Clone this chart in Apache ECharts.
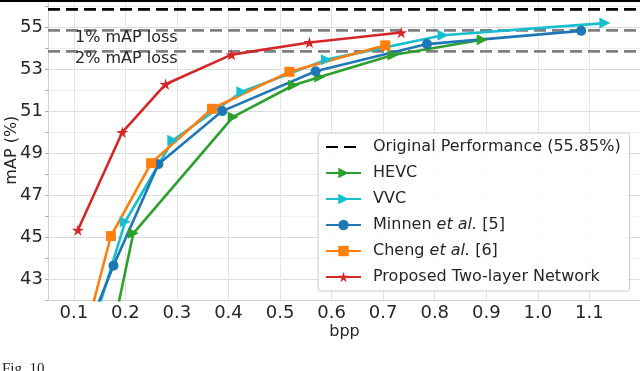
<!DOCTYPE html>
<html>
<head>
<meta charset="utf-8">
<script src="https://cdn.jsdelivr.net/npm/echarts@6/dist/echarts.min.js"></script>
<style>
html, body { margin: 0; padding: 0; background: #fff; }
#chart { width: 640px; height: 371px; }
</style>
</head>
<body>
<div id="chart"></div>
<script>
// bpp / mAP points (the lowest point of each curve sits below the axis)
var hevcX = [0.171, 0.2155, 0.409, 0.526, 0.577, 0.719, 0.892];
var hevcY = [40.0, 45.19, 50.73, 52.24, 52.63, 53.68, 54.41];
var vvcX = [0.128, 0.1996, 0.292, 0.426, 0.590, 0.816, 1.13];
var vvcY = [40.0, 45.74, 49.62, 51.93, 53.46, 54.62, 55.2];
var minnenX = [0.117, 0.177, 0.264, 0.388, 0.569, 0.785, 1.084];
var minnenY = [40.0, 43.65, 48.48, 51.01, 52.91, 54.2, 54.83];
var chengX = [0.118, 0.172, 0.25, 0.368, 0.518, 0.704];
var chengY = [40.0, 45.06, 48.53, 51.12, 52.88, 54.14];
var propX = [0.108, 0.194, 0.278, 0.406, 0.557, 0.735];
var propY = [45.35, 50.0, 52.29, 53.7, 54.28, 54.75];

var originalMap = 55.85;
var lossLevels = [54.85, 53.85];
var xRange = [0.05, 1.2];

var names = ['Original Performance (55.85%)', 'HEVC', 'VVC', 'Minnen et al. [5]', 'Cheng et al. [6]', 'Proposed Two-layer Network'];

function pairs(xs, ys) {
    return xs.map(function(x, i) { return [x, ys[i]]; });
}

var font = 'DejaVu Sans';
var starPath = 'path://M50,0 L61,35 L98,35 L68,57 L79,91 L50,70 L21,91 L32,57 L2,35 L39,35 Z';
var triPath = 'path://M0,0 L10,5 L0,10 Z';

function curve(name, data, color, symbol, size) {
    return {
        name: name,
        type: 'line',
        data: data,
        symbol: symbol,
        symbolSize: size,
        symbolKeepAspect: true,
        showAllSymbol: true,
        lineStyle: { color: color, width: 2.6 },
        itemStyle: { color: color },
        emphasis: { disabled: true },
        animation: false
    };
}

function hline(name, y, color) {
    return {
        name: name,
        type: 'line',
        data: [[xRange[0], y], [xRange[1], y]],
        symbol: 'none',
        lineStyle: { color: color, width: 2.8, type: [12, 6] },
        itemStyle: { color: color },
        emphasis: { disabled: true },
        animation: false
    };
}

var chart = echarts.init(document.getElementById('chart'));

var legendData = names.map(function(n, i) {
    // dashed reference line: line only, no marker in the key
    return i === 0 ? { name: n, itemStyle: { opacity: 0 } } : { name: n };
});

var option = {
    animation: false,
    grid: { left: 48, right: -1, top: 0, bottom: 70.7, containLabel: false, outerBoundsMode: 'none' },
    xAxis: {
        type: 'value',
        min: xRange[0],
        max: xRange[1],
        interval: 0.05,
        name: 'bpp',
        nameLocation: 'middle',
        nameGap: 24,
        nameMoveOverlap: false,
        nameTextStyle: { fontFamily: font, fontSize: 16, color: '#262626' },
        axisLine: { show: true, lineStyle: { color: '#d0d0d0', width: 1 } },
        axisTick: { show: false },
        axisLabel: {
            fontFamily: font, fontSize: 18, color: '#262626', margin: 4,
            formatter: function(v) {
                var k = Math.round(v * 20);
                if (k % 2 !== 0 || k >= 24) return '';
                return (k / 20).toFixed(1);
            }
        },
        splitLine: { show: true, lineStyle: { color: ['rgba(0,0,0,0)', '#e4e4e4'], width: 1 } }
    },
    yAxis: {
        type: 'value',
        min: 42,
        max: 56.3,
        interval: 1,
        name: 'mAP (%)',
        nameLocation: 'middle',
        nameRotate: 90,
        nameGap: 36,
        nameMoveOverlap: false,
        nameTextStyle: { fontFamily: font, fontSize: 16, color: '#262626', verticalAlign: 'middle' },
        axisLine: { show: true, lineStyle: { color: '#d0d0d0', width: 1 } },
        axisTick: { show: true, length: 3, inside: false, lineStyle: { color: '#aaaaaa' } },
        axisLabel: {
            fontFamily: font, fontSize: 18, color: '#262626', margin: 5,
            formatter: function(v) {
                if (Math.abs(v - Math.round(v)) > 1e-6) return '';
                return Math.round(v) % 2 === 1 ? String(Math.round(v)) : '';
            }
        },
        splitLine: { show: true, lineStyle: { color: ['#efefef', '#dcdcdc'], width: 1 } }
    },
    legend: {
        orient: 'vertical',
        left: 318,
        top: 133,
        data: legendData,
        itemWidth: 35,
        itemHeight: 13,
        itemGap: 10,
        padding: [6, 9, 6, 7],
        backgroundColor: 'rgba(255,255,255,0.85)',
        borderColor: '#cccccc',
        borderWidth: 1,
        borderRadius: 3,
        formatter: function(n) {
            return n.replace('et al.', '{i|et al.}');
        },
        textStyle: {
            fontFamily: font, fontSize: 16, color: '#262626', lineHeight: 16,
            padding: [0, 0, 0, 7],
            rich: { i: { fontFamily: font, fontSize: 16, fontStyle: 'italic', color: '#262626' } }
        }
    },
    graphic: [
        { type: 'rect', left: 0, top: 0, shape: { width: 640, height: 2 }, style: { fill: '#000' }, z: 100 },
        { type: 'text', left: 75, top: 30, style: { text: '1% mAP loss', font: '16px "DejaVu Sans"', fill: '#262626' }, z: 100 },
        { type: 'text', left: 75, top: 51, style: { text: '2% mAP loss', font: '16px "DejaVu Sans"', fill: '#262626' }, z: 100 },
        { type: 'text', left: 2, top: 362, style: { text: 'Fig. 10.', font: '15px "Liberation Serif"', fill: '#222' }, z: 100 }
    ],
    series: [
        hline('1% loss', lossLevels[0], '#808080'),
        hline('2% loss', lossLevels[1], '#808080'),
        hline(names[0], originalMap, '#000000'),
        curve(names[1], pairs(hevcX, hevcY), '#2ca02c', triPath, 11),
        curve(names[2], pairs(vvcX, vvcY), '#17becf', triPath, 11),
        curve(names[3], pairs(minnenX, minnenY), '#1f77b4', 'circle', 10),
        curve(names[4], pairs(chengX, chengY), '#ff7f0e', 'rect', 10),
        curve(names[5], pairs(propX, propY), '#d62728', starPath, 12)
    ]
};
chart.setOption(option);
</script>
</body>
</html>
